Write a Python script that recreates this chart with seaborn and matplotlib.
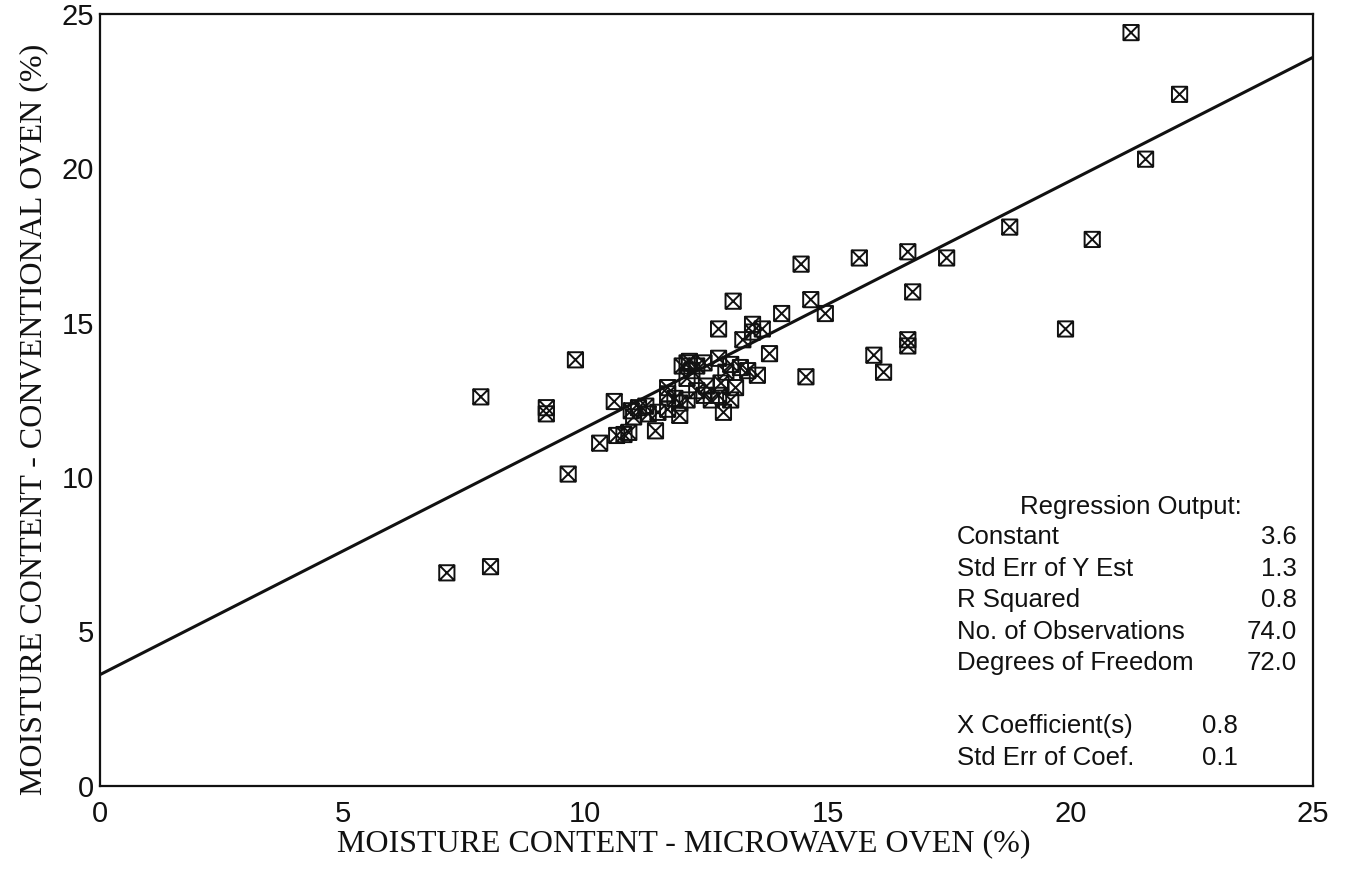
import numpy as np
import pandas as pd
import matplotlib
matplotlib.use("Agg")
import matplotlib.pyplot as plt
from matplotlib.path import Path
import seaborn as sns

# Moisture content (%) measured by microwave oven vs. conventional oven
microwave = [
    7.15, 8.05, 7.85, 9.2, 9.2, 9.8, 9.65, 10.3, 10.6, 10.65,
    10.8, 10.9, 11.45, 10.95, 11.1, 11.3, 11.0, 11.7, 11.7, 11.95,
    12.1, 11.95, 11.7, 12.1, 12.2, 12.3, 12.45, 12.75, 13.0, 13.35,
    13.55, 13.8, 12.1, 12.5, 12.8, 13.1, 12.45, 12.75, 13.0, 12.85,
    12.6, 14.45, 15.65, 16.65, 17.45, 16.75, 13.05, 14.65, 14.95, 14.05,
    12.75, 13.45, 13.45, 13.65, 13.25, 15.95, 16.65, 16.65, 16.15, 14.55,
    21.25, 22.25, 21.55, 18.75, 20.45, 19.9, 12.0, 12.15, 11.5, 11.25,
    12.9, 13.2, 12.3, 11.85,
]
conventional = [
    6.9, 7.1, 12.6, 12.05, 12.25, 13.8, 10.1, 11.1, 12.45, 11.35,
    11.38, 11.45, 11.5, 12.15, 12.25, 12.05, 11.95, 12.7, 12.9, 12.4,
    12.5, 12.0, 12.2, 13.7, 13.45, 13.6, 13.7, 13.85, 13.65, 13.45,
    13.3, 14.0, 13.2, 12.95, 13.05, 12.9, 12.65, 12.65, 12.5, 12.1,
    12.5, 16.9, 17.1, 17.3, 17.1, 16.0, 15.7, 15.75, 15.3, 15.3,
    14.8, 14.95, 14.7, 14.8, 14.45, 13.95, 14.25, 14.45, 13.4, 13.25,
    24.4, 22.4, 20.3, 18.1, 17.7, 14.8, 13.6, 13.75, 12.1, 12.3,
    13.4, 13.55, 12.8, 12.55,
]

# Regression summary
reg_labels = ["Constant", "Std Err of Y Est", "R Squared",
              "No. of Observations", "Degrees of Freedom"]
reg_values = ["3.6", "1.3", "0.8", "74.0", "72.0"]
coef_labels = ["X Coefficient(s)", "Std Err of Coef."]
coef_values = ["0.8", "0.1"]
intercept = 3.6
slope = 0.8

ticks = [0, 5, 10, 15, 20, 25]

sns.set_theme(style="white")
plt.rcParams["font.family"] = ["Liberation Sans", "DejaVu Sans"]

fig = plt.figure(figsize=(13.5, 8.8), dpi=100)
ax = fig.add_axes([0.074, 0.107, 0.8986, 0.877])

df = pd.DataFrame({"microwave": microwave, "conventional": conventional})

# square marker with a cross inside
verts = [(-1, -1), (1, -1), (1, 1), (-1, 1), (-1, -1),
         (-1, -1), (1, 1), (-1, 1), (1, -1)]
codes = [Path.MOVETO, Path.LINETO, Path.LINETO, Path.LINETO, Path.CLOSEPOLY,
         Path.MOVETO, Path.LINETO, Path.MOVETO, Path.LINETO]
box_x = Path(verts, codes)

sns.scatterplot(data=df, x="microwave", y="conventional", marker=box_x,
                s=120, facecolor="none", edgecolor="#111111", linewidth=1.4,
                ax=ax, zorder=3)

line_x = np.array([0, 25])
line_df = pd.DataFrame({"x": line_x, "y": intercept + slope * line_x})
sns.lineplot(data=line_df, x="x", y="y", color="#111111", linewidth=2.2,
             ax=ax, zorder=2)

ax.set_xlim(0, 25)
ax.set_ylim(0, 25)
ax.set_xticks(ticks)
ax.set_yticks(ticks)
ax.set_xticklabels([str(t) for t in ticks])
ax.set_yticklabels([str(t) for t in ticks])
ax.tick_params(axis="both", direction="in", length=9, width=1.2,
               colors="#111111", labelsize=21, pad=4)
ax.tick_params(axis="x", pad=10)
for sp in ax.spines.values():
    sp.set_color("#111111")
    sp.set_linewidth(1.6)

serif = ["Liberation Serif", "DejaVu Serif"]
ax.set_xlabel("MOISTURE CONTENT - MICROWAVE OVEN (%)", family=serif,
              fontsize=23, color="#111111")
ax.set_ylabel("MOISTURE CONTENT - CONVENTIONAL OVEN (%)", family=serif,
              fontsize=23, color="#111111")
ax.xaxis.set_label_coords(0.481, -0.056)
ax.yaxis.set_label_coords(-0.043, 0.475)

# regression output block
fs = 18.5
fig.text(1131 / 1350, 1 - 507 / 880, "Regression Output:",
         ha="center", va="center", fontsize=fs, color="#111111")
y0 = 537
for i, (lab, val) in enumerate(zip(reg_labels, reg_values)):
    yy = 1 - (y0 + i * 31.5) / 880
    fig.text(957 / 1350, yy, lab, ha="left", va="center", fontsize=fs, color="#111111")
    fig.text(1297 / 1350, yy, val, ha="right", va="center", fontsize=fs, color="#111111")
for i, (lab, val) in enumerate(zip(coef_labels, coef_values)):
    yy = 1 - (726 + i * 31.5) / 880
    fig.text(957 / 1350, yy, lab, ha="left", va="center", fontsize=fs, color="#111111")
    fig.text(1202 / 1350, yy, val, ha="left", va="center", fontsize=fs, color="#111111")

fig.savefig("out.png", dpi=100, facecolor="white")
